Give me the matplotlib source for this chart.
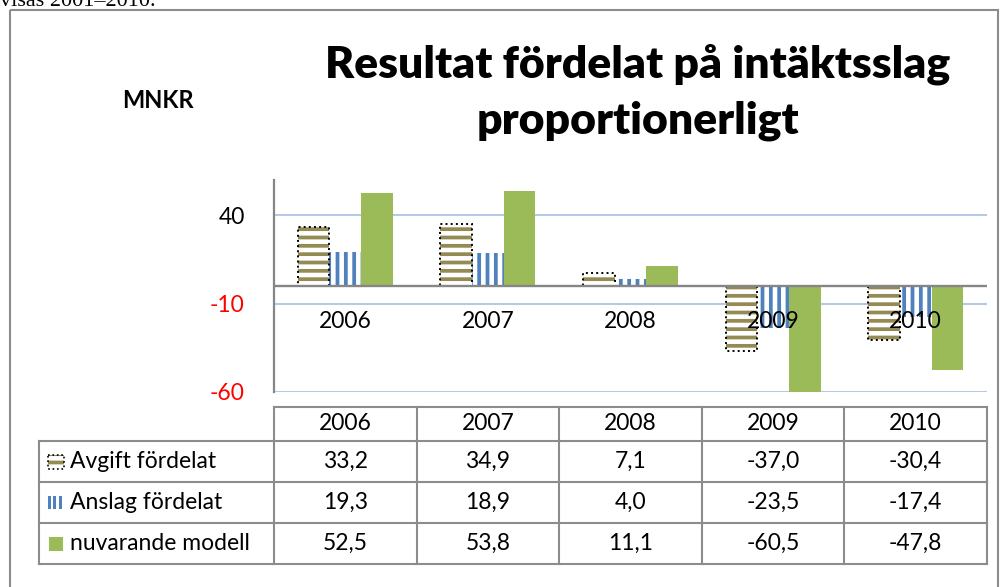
import matplotlib.pyplot as plt
from matplotlib.patches import Rectangle
from matplotlib.transforms import Affine2D, offset_copy
import numpy as np

years = ['2006', '2007', '2008', '2009', '2010']
series_names = ['Avgift fördelat', 'Anslag fördelat', 'nuvarande modell']
avgift = [33.2, 34.9, 7.1, -37.0, -30.4]
anslag = [19.3, 18.9, 4.0, -23.5, -17.4]
nuvarande = [52.5, 53.8, 11.1, -60.5, -47.8]
y_ticks = [-60, -10, 40]

plt.rcParams['font.family'] = ['Lato', 'DejaVu Sans']
plt.rcParams['hatch.linewidth'] = 2.7

W, H = 1002, 587
fig = plt.figure(figsize=(W / 100, H / 100), dpi=100)
# pixel coordinates, origin top-left
pix = Affine2D().scale(1 / W, -1 / H).translate(0, 1) + fig.transFigure


def box(x0, y0, x1, y1):
    return [x0 / W, 1 - y1 / H, (x1 - x0) / W, (y1 - y0) / H]


olive = '#948a54'
blue = '#4f81bd'
green = '#9bbb59'
grey = '#8c8c8c'
fs = 16.5

# outer chart frame and the clipped line of document text above it
fig.patches.append(Rectangle((10, 10), 988, 600, transform=pix, fill=False,
                             edgecolor=grey, lw=1.5))
fig.text(0, 6, 'visas 2001\u20132010.', transform=pix, family='Liberation Serif',
         fontsize=16, va='baseline', ha='left')

fig.text(638, 64, 'Resultat fördelat på intäktsslag', transform=pix,
         fontsize=32, fontweight='heavy', ha='center', va='center')
fig.text(638, 121, 'proportionerligt', transform=pix,
         fontsize=32, fontweight='heavy', ha='center', va='center')
fig.text(158, 100, 'MNKR', transform=pix, fontsize=17, fontweight='bold',
         ha='center', va='center')

ax = fig.add_axes(box(274, 180, 987, 392))
x = np.arange(len(years))
bw = 0.222

ax.bar(x - bw, avgift, bw, color='white', edgecolor=olive, hatch='--', linewidth=0, zorder=2)
ax.bar(x - bw, avgift, bw, fill=False, edgecolor='black', linestyle=':', linewidth=1.4, zorder=3)
ax.bar(x, anslag, bw, color='white', edgecolor=blue, hatch='||', linewidth=0, zorder=2)
ax.bar(x + bw, nuvarande, bw, color=green, linewidth=0, zorder=2)

ax.set_xlim(-0.5, len(years) - 0.5)
ax.set_ylim(-60, 60)
ax.set_yticks(y_ticks)
ax.set_yticklabels([str(t) for t in y_ticks])
for lab, t in zip(ax.get_yticklabels(), y_ticks):
    lab.set_color('red' if t < 0 else 'black')
    lab.set_fontsize(fs)
ax.tick_params(axis='y', length=0, pad=21)
ax.set_xticks([])
ax.yaxis.grid(True, color='#adc4e6', lw=1.3, zorder=0)
ax.set_axisbelow(True)
ax.axhline(0, color='#868686', lw=1.7, zorder=4)
for s in ['top', 'right', 'bottom']:
    ax.spines[s].set_visible(False)
ax.spines['left'].set_color('#868686')
ax.spines['left'].set_linewidth(1.6)

below = offset_copy(ax.transData, fig=fig, y=-36, units='dots')
for i, yr in enumerate(years):
    ax.text(i, 0, yr, transform=below, ha='center', va='center', fontsize=fs, zorder=5)

# data table under the plot
col_l, col_r = 274, 987
col_w = (col_r - col_l) / len(years)
rows = [407, 441, 482, 523, 564]
lab_l = 39

lines = dict(color=grey, lw=1.5, transform=pix)
fig.add_artist(plt.Line2D([col_l, col_r], [rows[0], rows[0]], **lines))
for r in rows[1:]:
    fig.add_artist(plt.Line2D([lab_l, col_r], [r, r], **lines))
fig.add_artist(plt.Line2D([lab_l, lab_l], [rows[1], rows[-1]], **lines))
for i in range(len(years) + 1):
    xe = col_l + i * col_w
    fig.add_artist(plt.Line2D([xe, xe], [rows[0], rows[-1]], **lines))

for i, yr in enumerate(years):
    fig.text(col_l + (i + 0.5) * col_w, (rows[0] + rows[1]) / 2, yr, transform=pix,
             ha='center', va='center', fontsize=fs)

table = [avgift, anslag, nuvarande]
for r, (name, vals) in enumerate(zip(series_names, table)):
    yc = (rows[r + 1] + rows[r + 2]) / 2
    fig.text(70, yc, name, transform=pix, ha='left', va='center', fontsize=fs)
    for i, v in enumerate(vals):
        fig.text(col_l + (i + 0.5) * col_w, yc, f'{v:.1f}'.replace('.', ','),
                 transform=pix, ha='center', va='center', fontsize=fs)

# legend keys in the table
k1 = (rows[1] + rows[2]) / 2
fig.patches.append(Rectangle((48, k1 - 7), 16, 14, transform=pix, facecolor='white',
                             edgecolor=olive, hatch='--', lw=0))
fig.patches.append(Rectangle((48, k1 - 7), 16, 14, transform=pix, fill=False,
                             edgecolor='black', linestyle=':', lw=1.2))
k2 = (rows[2] + rows[3]) / 2
for j in range(3):
    fig.patches.append(Rectangle((48 + j * 5.3, k2 - 6.5), 3.2, 13, transform=pix,
                                 facecolor=blue, lw=0))
k3 = (rows[3] + rows[4]) / 2
fig.patches.append(Rectangle((49, k3 - 7), 14, 14, transform=pix, facecolor=green, lw=0))

fig.savefig('out.png', dpi=100)
